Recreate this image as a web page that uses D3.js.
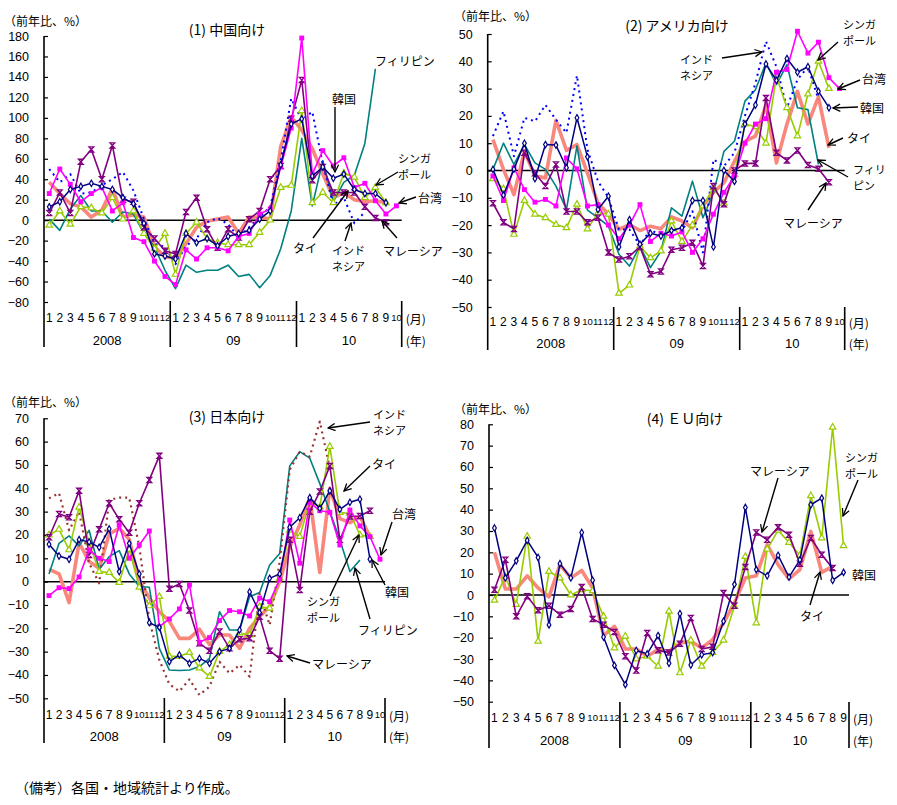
<!DOCTYPE html>
<html><head><meta charset="utf-8">
<script src="https://cdn.jsdelivr.net/npm/d3@7"></script>
<style>
body{margin:0;background:#fff}
svg{display:block}
</style>
</head><body><svg id="c" width="897" height="805"></svg>
<script>
// ---------- tick labels ----------
const months = ["1","2","3","4","5","6","7","8","9","10","11","12"];
const yearLabels = ["2008","09","10"];
const monthLabels34 = [...months, ...months, ...months.slice(0,10)];
const monthLabels33 = [...months, ...months, ...months.slice(0,9)];
const ticksChina = [-80,-60,-40,-20,0,20,40,60,80,100,120,140,160,180];
const ticksUS = [-50,-40,-30,-20,-10,0,10,20,30,40,50];
const ticksJapan = [-50,-40,-30,-20,-10,0,10,20,30,40,50,60,70];
const ticksEU = [-50,-40,-30,-20,-10,0,10,20,30,40,50,60,70,80];

// ---------- (1) China ----------
const chinaKorea = [13,18,30,33,36,33,30,22,16,-3,-33,-35, -38,-13,-22,-18,-25,-16,-13,-10,1,9,54,94, 99,43,52,41,45,30,26,26,17,null];
const chinaTaiwan = [26,50,35,18,26,32,9,17,-17,-21,-40,-55, -63,-29,-38,-27,-27,-30,-16,-13,6,11,52,90, 178,45,68,53,61,32,36,19,6,14];
const chinaSingapore = [-5,9,-4,13,12,7,22,1,9,-13,-28,-13, -53,-13,-2,-18,-22,-24,-24,-24,-12,0,32,34, 107,17,27,17,46,42,22,32,17,null];
const chinaMalaysia = [7,27,7,57,69,40,73,20,18,-7,-18,-30, -33,8,22,-9,-27,-9,-17,1,9,40,53,99, 137,39,52,27,27,27,13,2,-2,null];
const chinaThailand = [37,26,16,13,3,10,31,3,5,3,-26,-36, -37,-23,-7,-1,1,3,-13,3,3,1,72,101, 88,70,45,22,27,20,18,19,17,null];
const chinaPhilippines = [1,-10,11,24,9,9,-2,8,6,-13,-26,-49, -67,-44,-51,-49,-49,-44,-55,-53,-66,-54,-28,9, 80,14,58,18,37,44,75,148,null,null];
const chinaIndonesia = [50,37,45,26,27,34,40,47,29,1,-23,-26, -43,-25,-18,-2,2,-4,-17,-7,3,13,58,119, 98,106,55,15,22,-3,8,null,null,null];

// ---------- (2) USA ----------
const usKorea = [0.4,-9,0.5,10,-3,9.5,9.3,1,19.3,5,-14.3,-9.4, -28,-18,-27,-23,-24,-22,-21,-11,-11,-28,0,-4, 17,24,39,33,41,36,38,29,23,null];
const usTaiwan = [-2,-11,1,-7,-11.6,-10.6,-13,4.6,0.6,-13,-12.5,-20, -25,-20,-12.5,-26,-23,-24,-22.5,-30,-25,-16,-8,-2, 10,17,19,36,37,51,43,47,34,30];
const usSingapore = [-3,-6.7,-23.4,-11,-16,-17.3,-19.8,-21,-12.4,-21.4,-15.5,-16, -45,-42,-27.7,-32,-29.5,-18.5,-26,-20,-13,-6.3,-12,-1.5, 17,16,10,34.5,23,12.6,28,40,30,null];
const usMalaysia = [-12,-19,-21.4,6.5,-1,-5.7,2.2,-15,-15,-19,-17.3,-30, -32.6,-31.4,-28,-38,-37,-29,-28.3,-26.5,-35,-5.7,-12.4,0, 2.6,2.6,26.6,6.5,3.7,7.3,2,0.6,-4.3,null];
const usThailand = [11.3,0.4,-8.8,7,-2,-2.7,18.4,7.4,9.5,-1,-12,-16, -21.6,-19.8,-22,-20.4,-21.3,-17,-18.5,-21,-13,-8,-4.5,3.4, 10.7,12.6,24,2.8,17,29,17,27,8.3,null];
const usPhilippines = [0.4,10,2.2,9.5,2.8,0.4,-5.7,-14.3,9,-14.5,-17.3,-20.4, -30.7,-35,-27.7,-35.6,-29.5,-13.7,-16.7,-3.9,-17.3,-8.2,7,10.7, 25.4,29.6,39.4,31.5,38.8,23,22.3,2.2,null,null];
const usIndonesia = [12.6,21.7,5.2,19.3,18,24,18.6,13.8,34.8,7.7,-3.9,-10, -21.6,-21.6,-27.4,-21.6,-24,-21.6,-22.2,-14.9,-30,4,1.6,6.5, 20,32,47.3,38,23,33.3,38,26,null,null];

// ---------- (3) Japan ----------
const jpKorea = [16,11,9.6,18,17,14.7,22.6,4.3,16.4,3.3,-17.6,-19.6, -34.3,-31.4,-35,-32.9,-35,-30,-28.6,-20.7,-4.4,-13.3,1.4,3.3, 23.3,27.4,36,31.4,38.9,31,34,35.3,9.6,null];
const jpTaiwan = [-6,-2.6,-3,2,13.6,10,8.6,24.3,10,15.7,21.7,-19.3, -16,-11.7,-1.4,-26,-24,-16.7,-12.4,-12.9,-14.7,-7,-8.6,1, 26.4,7.9,34,30.4,29.7,15.7,30.7,23.9,19.3,9.6];
const jpSingapore = [20,22.4,13.6,31.9,16.7,4.3,3.9,-0.4,13.9,-2.4,-10.4,-6.4, -32,-32,-30.4,-37,-40.7,-30,-27,-22,-22.9,-10.7,-11.4,1.4, 22,19.3,34.3,32,57.9,29.6,29.3,20,19.3,null];
const jpMalaysia = [19,29,27.6,38.9,11.4,22.4,33.6,26.7,21,33.6,43.6,53.9, -3,-1,-12.4,-26.4,-29.6,-21.4,-28.6,-24.7,-24.3,-15,-29.6,-33, 17.9,-3.6,30,38.6,49.6,17.9,27.9,28.1,30.4,null];
const jpThailand = [5.3,3.3,-9,16.7,8.6,5.7,20.4,22.9,18.1,0.4,-7,-12.9, -17,-24.3,-24.3,-20.4,-27,-22.9,-22.9,-28.6,-20,-15,-10.7,0, 15,24.3,36,3.9,40,27,25.3,27.9,19.3,null];
const jpPhilippines = [3.3,16.4,19.6,15.3,22,5.3,10.7,13.3,3.3,-2.1,-2.4,-28.6, -37.9,-38.1,-37.9,-36.4,-32.9,-12.9,-20.7,-20.7,-6.4,-4.7,7.1,12.1, 49.6,55.7,52.9,42,30,17.9,4.3,9.3,null,null];
const jpIndonesia = [35.7,37.9,22,30,7.9,-0.7,35,36,36,15,-16.4,-33.6, -44,-47,-41.9,-48.6,-45,-34.3,-39.3,-35.7,-40.7,-5,-18.6,8.6, 47.9,55.7,53.6,68.6,48.6,null,null,null,null,null];

// ---------- (4) EU ----------
const euKorea = [31.4,8,16,25.6,17.6,-14,14.7,8,29.3,6.9,-19.7,-33, -42,-26,-27.6,-19,-32,-8.7,-32.8,-28,-27,-12.3,5,41, 11.9,9,18.6,8.4,16.5,42.3,45.4,6.9,10.6];
const euSingapore = [-2.5,8.7,-4.5,27.5,-21.7,11,8,0,2.5,2,-10,-24.8, -19.3,-30,-28.7,-33.4,-7.6,-36.5,-21.2,-33.4,-27,-21.2,-5.3,18, -13.1,21.5,30.3,24.6,18.6,46.5,26.7,78.6,23.1];
const euMalaysia = [2.5,16.5,-10,-0.6,-7.2,-5,-9.2,-6.6,3.7,-11.2,-13.9,-17.3, -28.7,-35.4,-17.8,-25.9,-27,-22.8,-10.8,-25.3,-24.3,0.9,-5,13.1, 29.3,25.9,31.7,28.2,14.7,26.7,18.9,12.6,null];
const euThailand = [20,2.8,2.8,9,3.3,-0.9,14.2,8,11.5,3.3,-19,-14.7, -25.3,-25.3,-28.7,-25.6,-26.4,-22.5,-21.7,-24.8,-20.9,-13.1,-3.7,8, 9,23.6,14.2,7.5,11.9,29.8,10.6,13.4,null];

// ---------- styles ----------
const styles = {
  thailand:   {color:"#F9877C", width:3.6, marker:null},
  philippines:{color:"#008080", width:1.6, marker:null},
  indonesia:  {color:"#0000FF", width:2, dash:"2,4", marker:null},
  indonesiaJ: {color:"#993333", width:2.2, dash:"2,4", marker:null},
  singapore:  {color:"#99CC00", width:1.6, marker:"triangle"},
  malaysia:   {color:"#800080", width:1.6, marker:"hourglass"},
  taiwan:     {color:"#FF00FF", width:1.6, marker:"square"},
  korea:      {color:"#000080", width:1.5, marker:"diamond"}
};

const JP = "'Noto Sans CJK JP','Noto Sans',sans-serif";
const NUM = "'Liberation Sans',Arial,sans-serif";
const NARROW = "'Liberation Sans Narrow','Liberation Sans',Arial,sans-serif";

const svg = d3.select("#c");
const defs = svg.append("defs");
defs.append("marker").attr("id","arr").attr("viewBox","0 0 10 10")
  .attr("refX",9).attr("refY",5).attr("markerWidth",9).attr("markerHeight",9)
  .attr("markerUnits","userSpaceOnUse").attr("orient","auto")
  .append("path").attr("d","M1,1 L9,5 L1,9").attr("fill","none").attr("stroke","#000").attr("stroke-width",1.4);

function drawPanel(p, list) {
  const g = svg.append("g");
  const x = d3.scaleBand().domain(d3.range(p.labels.length)).range([p.axisX, p.endX]);
  const bw = x.bandwidth();
  const cx = i => x(i) + bw/2;
  const y = d3.scaleLinear().domain(p.dom).range([p.yBot, p.yTop]);

  // title & unit
  g.append("text").attr("x",p.titleX).attr("y",p.titleY).attr("text-anchor","middle")
    .attr("dominant-baseline","central").style("font-family",JP).style("font-size","14px").text(p.title);
  g.append("text").attr("x",p.unitX).attr("y",p.unitY).attr("dominant-baseline","central")
    .style("font-family",JP).style("font-size","12px").text("（前年比、%）");

  // y axis
  const ax = d3.axisLeft(y).tickValues(p.ticks).tickSize(-4).tickPadding(15);
  const ga = g.append("g").attr("transform",`translate(${p.axisX},0)`).call(ax);
  ga.select(".domain").remove();
  ga.selectAll("line").attr("stroke","#000").attr("stroke-width",1.2);
  ga.selectAll("text").style("font-family",NUM).style("font-size","12.5px").attr("fill","#000");
  g.append("line").attr("x1",p.axisX).attr("x2",p.axisX).attr("y1",y(p.dom[1])).attr("y2",p.axisBottom)
    .attr("stroke","#000").attr("stroke-width",1.6);

  // separators
  [12,24].forEach(k => g.append("line").attr("x1",x(k)).attr("x2",x(k)).attr("y1",p.sepTop).attr("y2",p.axisBottom)
      .attr("stroke","#000").attr("stroke-width",1.6));
  g.append("line").attr("x1",p.endX).attr("x2",p.endX).attr("y1",p.sepTop).attr("y2",p.axisBottom)
      .attr("stroke","#000").attr("stroke-width",1.6);

  // month labels
  const xa = d3.axisBottom(x).tickFormat(i => p.labels[i]).tickSize(0).tickPadding(0);
  const gx = g.append("g").attr("transform",`translate(0,${p.monthY})`).call(xa);
  gx.select(".domain").remove();
  gx.selectAll("text").attr("y",0).attr("dy","0.35em").style("font-family",NARROW).attr("fill","#000")
    .style("font-size", i => p.labels[i].length > 1 ? "9.5px" : "12px");
  // year labels
  const ranges = [[0,11],[12,23],[24,p.labels.length-1]];
  yearLabels.forEach((t,k) => {
    const [a,b] = ranges[k];
    g.append("text").attr("x",(x(a)+x(b)+bw)/2).attr("y",p.yearY).attr("text-anchor","middle")
      .attr("dominant-baseline","central").style("font-family",NARROW).style("font-size","13px").text(t);
  });
  g.append("text").attr("x",p.endX+4).attr("y",p.monthY).attr("dominant-baseline","central")
    .style("font-family",JP).style("font-size","12px").text("(月)");
  g.append("text").attr("x",p.endX+4).attr("y",p.yearY).attr("dominant-baseline","central")
    .style("font-family",JP).style("font-size","12px").text("(年)");

  // zero line
  g.append("line").attr("x1",p.axisX).attr("x2",p.endX).attr("y1",y(0)).attr("y2",y(0))
    .attr("stroke","#000").attr("stroke-width",1.5);

  // series
  const line = d3.line().defined(d => d != null).x((d,i) => cx(i)).y(d => y(d));
  list.forEach(s => {
    const st = styles[s.style];
    g.append("path").datum(s.values).attr("d",line).attr("fill","none")
      .attr("stroke",st.color).attr("stroke-width",st.width)
      .attr("stroke-dasharray",st.dash || null).attr("stroke-linejoin","round");
    if (st.marker) {
      const pts = s.values.map((v,i) => ({v,i})).filter(d => d.v != null);
      const mk = g.append("g").selectAll("path").data(pts).join("path")
        .attr("transform",d => `translate(${cx(d.i)},${y(d.v)})`);
      if (st.marker === "diamond") mk.attr("d",d3.symbol().type(d3.symbolDiamond).size(12)).attr("fill","#fff").attr("stroke",st.color).attr("stroke-width",1.2);
      if (st.marker === "square") mk.attr("d",d3.symbol().type(d3.symbolSquare).size(24)).attr("fill",st.color);
      if (st.marker === "triangle") mk.attr("d",d3.symbol().type(d3.symbolTriangle).size(18)).attr("fill","#fff").attr("stroke",st.color).attr("stroke-width",1.2);
      if (st.marker === "hourglass") mk.attr("d","M-2.4,-2.6H2.4L-2.4,2.6H2.4Z").attr("fill","none").attr("stroke",st.color).attr("stroke-width",1.3);
    }
  });

  // annotations (two-line labels slightly smaller so the lines do not collide)
  p.notes.forEach(n => {
    const multi = n.t.length > 1;
    n.t.forEach((t,k) => g.append("text").attr("x",n.x).attr("y",n.y + k*16).attr("dominant-baseline","central")
      .style("font-family",JP).style("font-size", multi ? "11px" : "12px").text(t));
  });
  p.arrows.forEach(a => g.append("line").attr("x1",a[0]).attr("y1",a[1]).attr("x2",a[2]).attr("y2",a[3])
      .attr("stroke","#000").attr("stroke-width",1.4).attr("marker-end","url(#arr)"));
}

drawPanel({
  title:"(1) 中国向け", titleX:227, titleY:29, unitX:4, unitY:20,
  axisX:44, endX:401.7, dom:[-80,180], yBot:302, yTop:36, ticks:ticksChina,
  axisBottom:347, sepTop:301, monthY:318, yearY:340, labels:monthLabels34,
  notes:[
    {t:["フィリピン"],x:375,y:60},{t:["韓国"],x:332,y:98},{t:["シンガ","ポール"],x:398,y:158},
    {t:["台湾"],x:418,y:197},{t:["タイ"],x:293,y:247},{t:["インド","ネシア"],x:332,y:250},
    {t:["マレーシア"],x:383,y:250}],
  arrows:[[335,107,335,172],[398,172,376,185],[416,197,399,203],[313,238,348,191],[345,241,351,223],[397,238,382,221]]
},[
  {style:"thailand",values:chinaThailand},{style:"philippines",values:chinaPhilippines},
  {style:"indonesia",values:chinaIndonesia},{style:"singapore",values:chinaSingapore},
  {style:"malaysia",values:chinaMalaysia},{style:"taiwan",values:chinaTaiwan},{style:"korea",values:chinaKorea}
]);

drawPanel({
  title:"(2) アメリカ向け", titleX:677, titleY:25, unitX:454, unitY:15,
  axisX:487.7, endX:844.7, dom:[-50,50], yBot:307, yTop:34, ticks:ticksUS,
  axisBottom:350, sepTop:307, monthY:322, yearY:343, labels:monthLabels34,
  notes:[
    {t:["インド","ネシア"],x:680,y:59},{t:["シンガ","ポール"],x:843,y:24},{t:["台湾"],x:862,y:78},
    {t:["韓国"],x:860,y:107},{t:["タイ"],x:847,y:137},{t:["フィリ","ピン"],x:853,y:169},
    {t:["マレーシア"],x:783,y:222}],
  arrows:[[722,58,762,52],[838,42,818,60],[860,80,838,89],[858,107,833,108],[843,138,828,145],[848,177,818,160],[808,210,826,183]]
},[
  {style:"thailand",values:usThailand},{style:"philippines",values:usPhilippines},
  {style:"indonesia",values:usIndonesia},{style:"singapore",values:usSingapore},
  {style:"malaysia",values:usMalaysia},{style:"taiwan",values:usTaiwan},{style:"korea",values:usKorea}
]);

drawPanel({
  title:"(3) 日本向け", titleX:227, titleY:416, unitX:4, unitY:401,
  axisX:44, endX:385, dom:[-50,70], yBot:698.3, yTop:418.3, ticks:ticksJapan,
  axisBottom:743, sepTop:698, monthY:715, yearY:736, labels:monthLabels34,
  notes:[
    {t:["インド","ネシア"],x:373,y:414},{t:["タイ"],x:372,y:463},{t:["台湾"],x:392,y:513},
    {t:["韓国"],x:385,y:591},{t:["シンガ","ポール"],x:307,y:601},{t:["フィリピン"],x:358,y:629},
    {t:["マレーシア"],x:312,y:663}],
  arrows:[[370,422,328,428],[370,466,344,491],[392,522,381,555],[385,585,372,560],[330,596,359,535],[370,619,355,568],[310,663,287,656]]
},[
  {style:"thailand",values:jpThailand},{style:"philippines",values:jpPhilippines},
  {style:"indonesiaJ",values:jpIndonesia},{style:"singapore",values:jpSingapore},
  {style:"malaysia",values:jpMalaysia},{style:"taiwan",values:jpTaiwan},{style:"korea",values:jpKorea}
]);

drawPanel({
  title:"(4) ＥＵ向け", titleX:685, titleY:418, unitX:454, unitY:408,
  axisX:489, endX:849, dom:[-50,80], yBot:701.7, yTop:424.3, ticks:ticksEU,
  axisBottom:748, sepTop:702, monthY:718, yearY:740, labels:monthLabels33,
  notes:[
    {t:["マレーシア"],x:750,y:470},{t:["シンガ","ポール"],x:845,y:457},
    {t:["韓国"],x:852,y:574},{t:["タイ"],x:800,y:615}],
  arrows:[[778,478,762,532],[858,480,843,516],[810,605,820,572]]
},[
  {style:"thailand",values:euThailand},{style:"singapore",values:euSingapore},
  {style:"malaysia",values:euMalaysia},{style:"korea",values:euKorea}
]);

svg.append("text").attr("x",15).attr("y",787).attr("dominant-baseline","central")
  .style("font-family",JP).style("font-size","14px").text("（備考）各国・地域統計より作成。");
</script></body></html>
